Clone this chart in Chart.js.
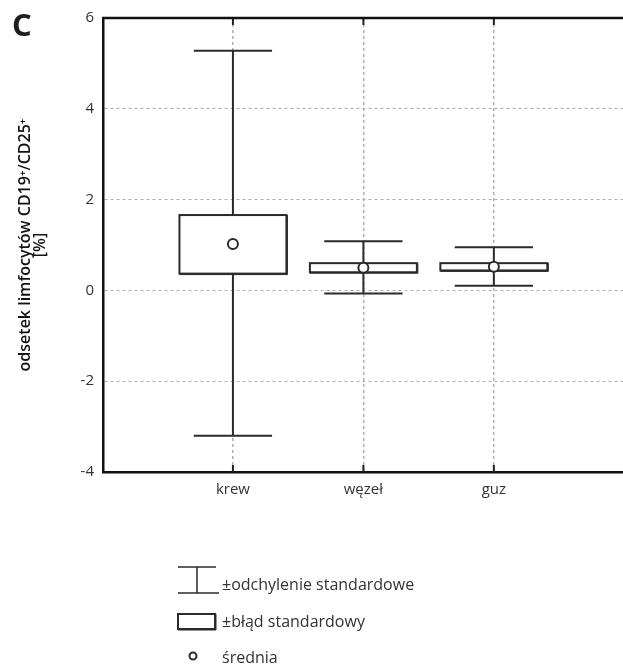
<!DOCTYPE html>
<html>
<head>
<meta charset="utf-8">
<script src="https://cdn.jsdelivr.net/npm/chart.js@4"></script>
<style>
  html, body { margin: 0; padding: 0; background: #fff; overflow: hidden; }
  #wrap { width: 630px; height: 666px; position: relative; }
</style>
</head>
<body>
<div id="wrap"><canvas id="chart"></canvas></div>
<script>
// dane
const categories = ['krew', 'węzeł', 'guz'];
const means  = [1.02, 0.50, 0.52];
const seLow  = [0.37, 0.40, 0.44];
const seHigh = [1.66, 0.60, 0.60];
const sdLow  = [-3.20, -0.07, 0.10];
const sdHigh = [5.28, 1.08, 0.95];
const yTicks = [-4, -2, 0, 2, 4, 6];

const FONT = "'Open Sans', sans-serif";
const INK = '#2b2b2b';

// pudełka (±SE) i wąsy (±SD) rysowane przez skale wykresu
const boxPlugin = {
    id: 'boxes',
    beforeDatasetsDraw(chart) {
        const ctx = chart.ctx;
        const xs = chart.scales.x, ys = chart.scales.y;
        const a = chart.chartArea;
        ctx.save();
        categories.forEach((c, i) => {
            const x = xs.getPixelForValue(i + 1);
            const capL = xs.getPixelForValue(i + 1 - 0.3), capR = xs.getPixelForValue(i + 1 + 0.3);
            const boxL = xs.getPixelForValue(i + 1 - 0.41), boxR = xs.getPixelForValue(i + 1 + 0.41);
            const yHi = ys.getPixelForValue(sdHigh[i]), yLo = ys.getPixelForValue(sdLow[i]);
            ctx.strokeStyle = INK;
            ctx.lineWidth = 2;
            ctx.beginPath();
            ctx.moveTo(x, yHi); ctx.lineTo(x, yLo);
            ctx.moveTo(capL, yHi); ctx.lineTo(capR, yHi);
            ctx.moveTo(capL, yLo); ctx.lineTo(capR, yLo);
            ctx.stroke();
            const bT = ys.getPixelForValue(seHigh[i]), bB = ys.getPixelForValue(seLow[i]);
            ctx.fillStyle = '#fff';
            ctx.fillRect(boxL, bT, boxR - boxL, bB - bT);
            ctx.lineWidth = 2;
            ctx.strokeRect(boxL, bT, boxR - boxL, bB - bT);
            ctx.beginPath();
            ctx.moveTo(boxL, bB + 1); ctx.lineTo(boxR + 1, bB + 1); ctx.lineTo(boxR + 1, bT);
            ctx.lineWidth = 1;
            ctx.stroke();
            // znaczniki osi (góra i dół)
            ctx.lineWidth = 2;
            ctx.strokeStyle = '#222';
            ctx.beginPath();
            ctx.moveTo(x, a.top); ctx.lineTo(x, a.top + 7);
            ctx.moveTo(x, a.bottom); ctx.lineTo(x, a.bottom - 7);
            ctx.stroke();
        });
        // górna krawędź ramki
        ctx.strokeStyle = '#111';
        ctx.lineWidth = 2.5;
        ctx.beginPath();
        ctx.moveTo(a.left - 1, a.top); ctx.lineTo(a.right, a.top);
        ctx.stroke();
        ctx.restore();
    },
    afterDraw(chart) {
        const ctx = chart.ctx;
        ctx.save();
        // litera panelu
        ctx.fillStyle = '#1e1e1e';
        ctx.font = "bold 31px " + FONT;
        ctx.textBaseline = 'middle';
        ctx.fillText('C', 12, 27);
        // legenda
        ctx.strokeStyle = INK;
        ctx.lineWidth = 1.5;
        ctx.beginPath();
        ctx.moveTo(178, 567); ctx.lineTo(216, 567);
        ctx.moveTo(197, 567); ctx.lineTo(197, 593);
        ctx.moveTo(178, 593); ctx.lineTo(219, 593);
        ctx.stroke();
        ctx.lineWidth = 2;
        ctx.strokeRect(178, 614, 37, 15);
        ctx.lineWidth = 1;
        ctx.beginPath();
        ctx.moveTo(178, 630); ctx.lineTo(216, 630); ctx.lineTo(216, 614);
        ctx.stroke();
        ctx.lineWidth = 2;
        ctx.beginPath();
        ctx.arc(193, 656, 3.5, 0, Math.PI * 2);
        ctx.stroke();
        ctx.fillStyle = '#333';
        ctx.font = "16px " + FONT;
        ctx.textBaseline = 'middle';
        ctx.fillText('±odchylenie standardowe', 222, 585);
        ctx.fillText('±błąd standardowy', 222, 622);
        ctx.fillText('średnia', 222, 658);
        ctx.restore();
    }
};

new Chart(document.getElementById('chart'), {
    type: 'scatter',
    data: {
        datasets: [{
            label: 'średnia',
            data: means.map((m, i) => ({ x: i + 1, y: m })),
            pointRadius: 5,
            pointBackgroundColor: '#fff',
            pointBorderColor: INK,
            pointBorderWidth: 2
        }]
    },
    options: {
        responsive: true,
        maintainAspectRatio: false,
        animation: false,
        layout: { padding: { top: 18, left: 0, right: 0, bottom: 0 } },
        plugins: { legend: { display: false }, tooltip: { enabled: false } },
        scales: {
            x: {
                type: 'linear',
                min: 0.004,
                max: 3.99,
                afterBuildTicks: s => { s.ticks = categories.map((c, i) => ({ value: i + 1 })); },
                afterFit: s => { s.height = 194; },
                ticks: {
                    callback: v => categories[v - 1],
                    color: '#333',
                    font: { family: FONT, size: 15 },
                    padding: 9,
                    maxRotation: 0
                },
                grid: { color: '#b0b0b0', lineWidth: 1.5, drawTicks: false },
                border: { color: '#111', width: 2.5, dash: [3, 3] }
            },
            y: {
                min: -4,
                max: 6,
                afterBuildTicks: s => { s.ticks = yTicks.map(v => ({ value: v })); },
                afterFit: s => { s.width = 103; },
                ticks: {
                    color: '#333',
                    font: { family: FONT, size: 15 },
                    padding: 9
                },
                grid: { color: '#b0b0b0', lineWidth: 1, drawTicks: false },
                border: { color: '#111', width: 2.5, dash: [3, 3] },
                title: {
                    display: true,
                    text: ['odsetek limfocytów CD19⁺/CD25⁺', '[%]'],
                    color: '#111',
                    font: { family: FONT, size: 16, weight: '600', lineHeight: 0.95 },
                    padding: { top: 18, bottom: 0 }
                }
            }
        }
    },
    plugins: [boxPlugin]
});
</script>
</body>
</html>
